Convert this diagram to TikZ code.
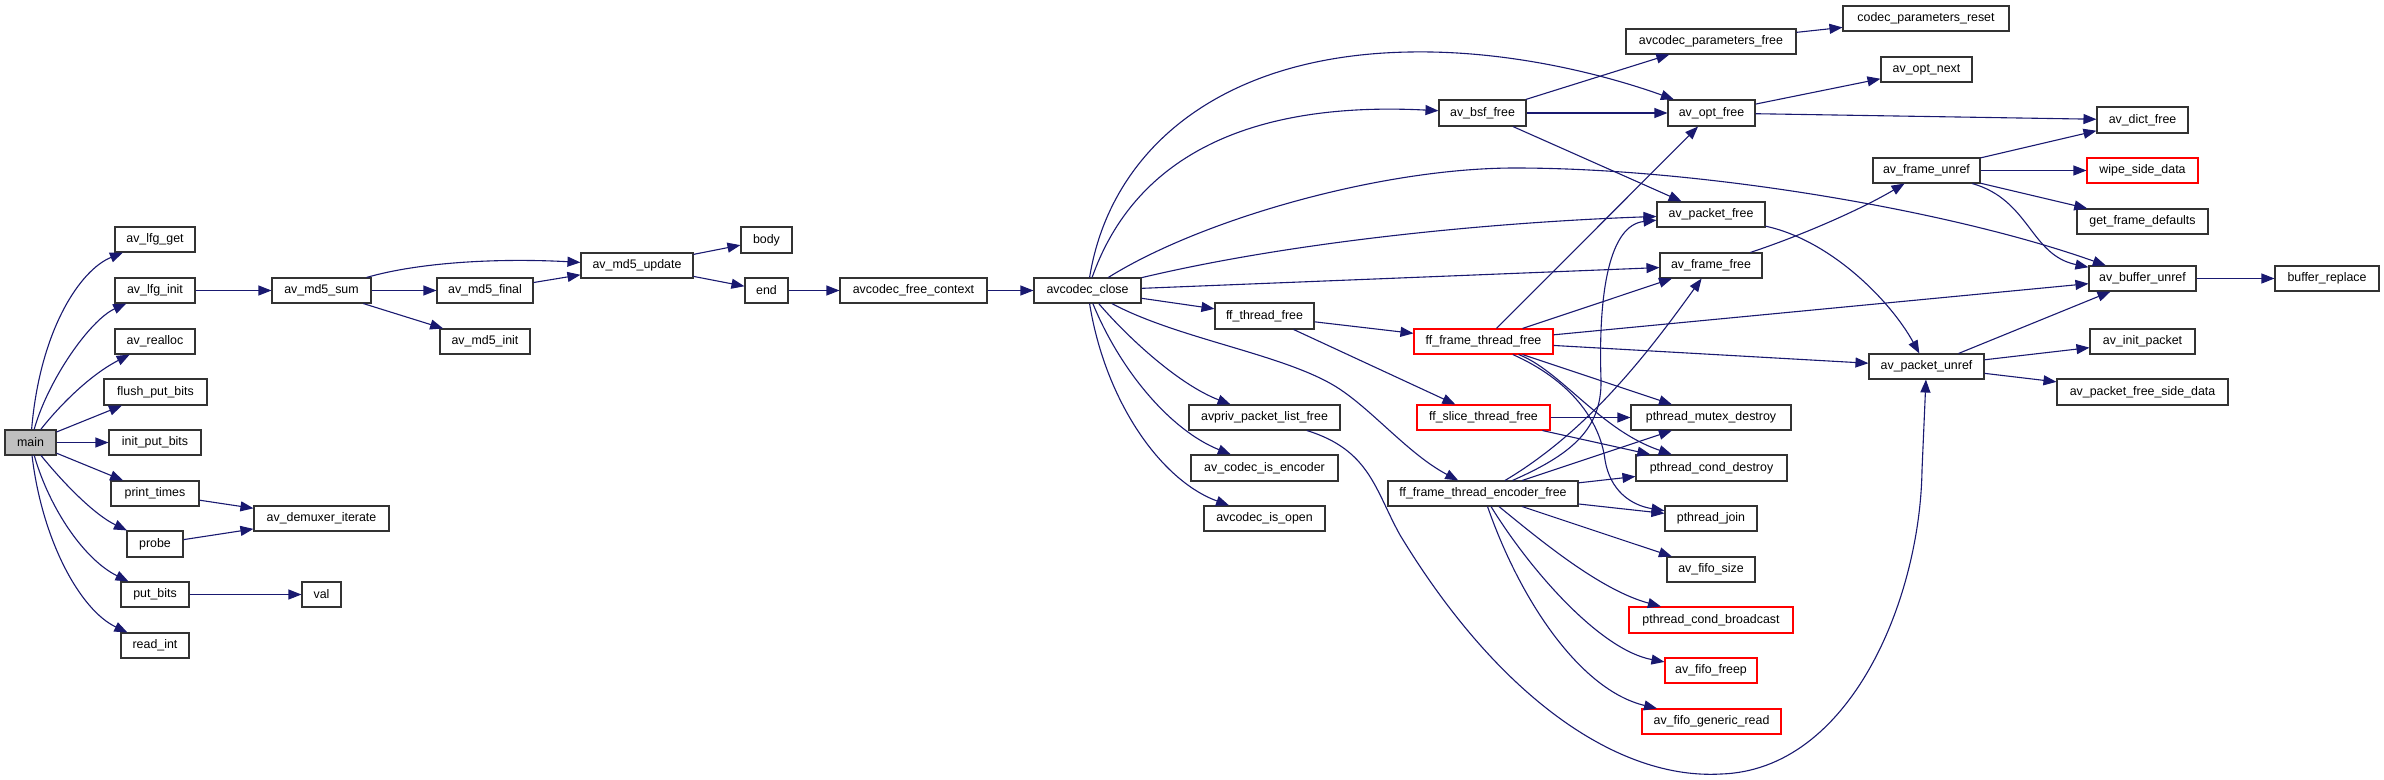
\documentclass[tikz,border=0pt]{standalone}
\usepackage{fontspec}
\setmainfont{Liberation Sans}
\usetikzlibrary{arrows.meta}
\definecolor{edgec}{HTML}{191970}
\definecolor{mainfill}{HTML}{BFBFBF}
\tikzset{
  box/.style={draw=black!80, line width=1.1pt, fill=white, inner sep=0pt,
    font=\fontsize{12.4}{14}\selectfont, text=black},
  redbox/.style={draw=red},
  graybox/.style={fill=mainfill},
  e/.style={draw=edgec, line width=1.1pt, -{Triangle[length=13pt,width=10pt]}},
}
\newcommand{\gnode}[7][]{\node[box,#1,minimum width={(#5)-(#3)},minimum height={(#6)-(#4)}] (#2) at ({((#3)+(#5))/2},{((#4)+(#6))/2}) {#7};}
\begin{document}
\begin{tikzpicture}[x=1pt,y=-1pt]
\fill[white] (0,0) rectangle (2384,779);
\useasboundingbox (0,0) rectangle (2384,779);
% nodes
\gnode[graybox]{main}{5}{430}{56}{455}{main}
\gnode{lfgget}{115}{227}{195}{252}{av\_lfg\_get}
\gnode{lfginit}{115}{278}{195}{303}{av\_lfg\_init}
\gnode{realloc}{115}{329}{195}{354}{av\_realloc}
\gnode{flush}{104}{379}{207}{405}{flush\_put\_bits}
\gnode{initpb}{109}{430}{201}{455}{init\_put\_bits}
\gnode{printt}{111}{481}{199}{506}{print\_times}
\gnode{probe}{127}{531}{183}{557}{probe}
\gnode{putbits}{121}{582}{189}{607}{put\_bits}
\gnode{readint}{121}{633}{189}{658}{read\_int}
\gnode{md5sum}{272}{278}{371}{303}{av\_md5\_sum}
\gnode{demux}{254}{506}{389}{531}{av\_demuxer\_iterate}
\gnode{val}{302}{582}{341}{607}{val}
\gnode{md5final}{437}{278}{533}{303}{av\_md5\_final}
\gnode{md5init}{440}{329}{530}{354}{av\_md5\_init}
\gnode{md5update}{581}{253}{693}{278}{av\_md5\_update}
\gnode{body}{741}{227}{792}{253}{body}
\gnode{endn}{745}{278}{788}{303}{end}
\gnode{freectx}{840}{278}{987}{303}{avcodec\_free\_context}
\gnode{close}{1034}{278}{1141}{303}{avcodec\_close}
\gnode{parfree}{1626}{29}{1796}{54}{avcodec\_parameters\_free}
\gnode{bsffree}{1439}{100}{1526}{126}{av\_bsf\_free}
\gnode{optfree}{1668}{100}{1755}{126}{av\_opt\_free}
\gnode{pktfree}{1657}{202}{1765}{227}{av\_packet\_free}
\gnode{framefree}{1660}{253}{1762}{278}{av\_frame\_free}
\gnode{thrfree}{1215}{303}{1314}{329}{ff\_thread\_free}
\gnode[redbox]{framethr}{1414}{329}{1553}{354}{ff\_frame\_thread\_free}
\gnode{pktlist}{1189}{405}{1340}{430}{avpriv\_packet\_list\_free}
\gnode[redbox]{slicethr}{1417}{405}{1550}{430}{ff\_slice\_thread\_free}
\gnode{mutexd}{1631}{405}{1791}{430}{pthread\_mutex\_destroy}
\gnode{isenc}{1191}{455}{1338}{481}{av\_codec\_is\_encoder}
\gnode{condd}{1636}{455}{1787}{481}{pthread\_cond\_destroy}
\gnode{encfree}{1388}{481}{1578}{506}{ff\_frame\_thread\_encoder\_free}
\gnode{isopen}{1204}{506}{1325}{531}{avcodec\_is\_open}
\gnode{join}{1665}{506}{1757}{531}{pthread\_join}
\gnode{fifosize}{1667}{557}{1755}{582}{av\_fifo\_size}
\gnode[redbox]{condb}{1629}{607}{1793}{633}{pthread\_cond\_broadcast}
\gnode[redbox]{fifofreep}{1665}{658}{1757}{683}{av\_fifo\_freep}
\gnode[redbox]{fiforead}{1642}{709}{1781}{734}{av\_fifo\_generic\_read}
\gnode{parreset}{1843}{6}{2009}{31}{codec\_parameters\_reset}
\gnode{optnext}{1881}{57}{1972}{82}{av\_opt\_next}
\gnode{dictfree}{2097}{107}{2188}{133}{av\_dict\_free}
\gnode{frameunref}{1873}{158}{1980}{183}{av\_frame\_unref}
\gnode[redbox]{wipe}{2087}{158}{2198}{183}{wipe\_side\_data}
\gnode{getdef}{2077}{209}{2208}{234}{get\_frame\_defaults}
\gnode{bufunref}{2089}{266}{2196}{291}{av\_buffer\_unref}
\gnode{bufrepl}{2275}{266}{2379}{291}{buffer\_replace}
\gnode{initpkt}{2090}{329}{2195}{354}{av\_init\_packet}
\gnode{pktunref}{1869}{354}{1984}{379}{av\_packet\_unref}
\gnode{pktfsd}{2057}{379}{2228}{405}{av\_packet\_free\_side\_data}
% edges from main
\draw[e] (main) .. controls (40,330) and (80,270) .. (lfgget);
\draw[e] (main) .. controls (48,380) and (90,320) .. (lfginit);
\draw[e] (main) .. controls (60,405) and (90,375) .. (realloc);
\draw[e] (main) -- (flush);
\draw[e] (main) -- (initpb);
\draw[e] (main) -- (printt);
\draw[e] (main) .. controls (65,485) and (95,515) .. (probe);
\draw[e] (main) .. controls (50,510) and (85,560) .. (putbits);
\draw[e] (main) .. controls (42,540) and (80,610) .. (readint);
% md5 chain
\draw[e] (lfginit) -- (md5sum);
\draw[e] (md5sum) .. controls (420,262) and (500,258) .. (md5update);
\draw[e] (md5sum) -- (md5final);
\draw[e] (md5sum) -- (md5init);
\draw[e] (md5final) -- (md5update);
\draw[e] (md5update) -- (body);
\draw[e] (md5update) -- (endn);
\draw[e] (endn) -- (freectx);
\draw[e] (freectx) -- (close);
\draw[e] (printt) -- (demux);
\draw[e] (probe) -- (demux);
\draw[e] (putbits) -- (val);
% avcodec_close fan
\draw[e] (close) .. controls (1110,150) and (1220,55) .. (1410,52) .. controls (1520,50) and (1620,80) .. (optfree);
\draw[e] (close) .. controls (1130,170) and (1230,100) .. (bsffree);
\draw[e] (close) .. controls (1200,220) and (1380,168) .. (1515,168) .. controls (1700,168) and (1950,210) .. (bufunref);
\draw[e] (close) .. controls (1300,240) and (1500,222) .. (pktfree);
\draw[e] (close) -- (framefree);
\draw[e] (close) -- (thrfree);
\draw[e] (close) .. controls (1180,340) and (1290,355) .. (1341,390) .. controls (1375,413) and (1410,455) .. (encfree);
\draw[e] (close) .. controls (1130,340) and (1180,385) .. (pktlist);
\draw[e] (close) .. controls (1120,370) and (1170,430) .. (isenc);
\draw[e] (close) .. controls (1105,400) and (1160,480) .. (isopen);
% bsf / opt
\draw[e] (bsffree) -- (parfree);
\draw[e] (bsffree) -- (optfree);
\draw[e] (bsffree) -- (pktfree);
\draw[e] (parfree) -- (parreset);
\draw[e] (optfree) -- (optnext);
\draw[e] (optfree) -- (dictfree);
\draw[e] (pktfree) .. controls (1830,240) and (1890,300) .. (pktunref);
\draw[e] (framefree) .. controls (1800,236) and (1860,210) .. (frameunref);
\draw[e] (frameunref) -- (dictfree);
\draw[e] (frameunref) -- (wipe);
\draw[e] (frameunref) -- (getdef);
\draw[e] (frameunref) .. controls (2030,200) and (2030,255) .. (bufunref);
\draw[e] (bufunref) -- (bufrepl);
\draw[e] (pktunref) -- (bufunref);
\draw[e] (pktunref) -- (initpkt);
\draw[e] (pktunref) -- (pktfsd);
% threads
\draw[e] (thrfree) -- (framethr);
\draw[e] (thrfree) -- (slicethr);
\draw[e] (framethr) -- (optfree);
\draw[e] (framethr) -- (framefree);
\draw[e] (framethr) -- (bufunref);
\draw[e] (framethr) -- (pktunref);
\draw[e] (framethr) -- (mutexd);
\draw[e] (framethr) .. controls (1560,370) and (1600,430) .. (condd);
\draw[e] (framethr) .. controls (1570,380) and (1600,420) .. (1605,460) .. controls (1610,490) and (1630,505) .. (join);
\draw[e] (slicethr) -- (mutexd);
\draw[e] (slicethr) -- (condd);
\draw[e] (encfree) .. controls (1570,455) and (1602,430) .. (1601,380) .. controls (1598,290) and (1610,225) .. (pktfree);
\draw[e] (encfree) .. controls (1590,430) and (1650,350) .. (framefree);
\draw[e] (encfree) -- (mutexd);
\draw[e] (encfree) -- (condd);
\draw[e] (encfree) -- (join);
\draw[e] (encfree) -- (fifosize);
\draw[e] (encfree) .. controls (1540,540) and (1600,590) .. (condb);
\draw[e] (encfree) .. controls (1530,570) and (1600,650) .. (fifofreep);
\draw[e] (encfree) .. controls (1520,600) and (1580,690) .. (fiforead);
% long curve
\draw[e] (pktlist) .. controls (1370,450) and (1375,490) .. (1400,535) .. controls (1500,700) and (1620,780) .. (1721,774) .. controls (1850,770) and (1920,600) .. (1922,470) -- (pktunref);
\end{tikzpicture}
\end{document}
